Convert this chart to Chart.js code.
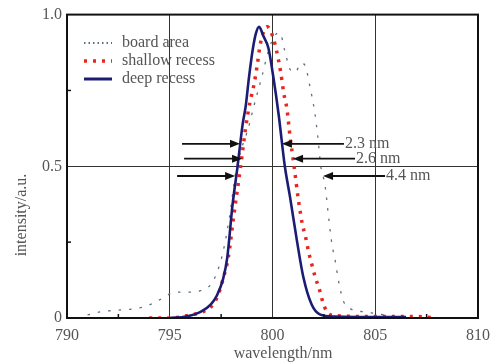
<!DOCTYPE html>
<html>
<head>
<meta charset="utf-8">
<script src="https://cdn.jsdelivr.net/npm/chart.js@4.4.0/dist/chart.umd.min.js"></script>
<style>
  html, body { margin: 0; padding: 0; background: #fff; }
  #wrap { width: 500px; height: 364px; }
</style>
</head>
<body>
<div id="wrap"><canvas id="chart" width="500" height="364"></canvas></div>
<script>
// axis ticks
const xTicks = [790, 795, 800, 805, 810];
const yTicks = [0, 0.5, 1.0];

// board area (thin dotted)
const boardX = [791.0, 791.6, 792.3, 793.2, 793.9, 794.5, 795.3, 796.1, 796.5, 797.0, 797.3, 797.6, 797.9, 798.2, 798.5, 798.8, 799.1, 799.5, 799.8, 800.1, 800.36, 800.6, 800.85, 801.1, 801.4, 801.6, 801.8, 802.05, 802.2, 802.35, 802.55, 802.75, 802.9, 803.05, 803.2, 803.45, 803.8, 804.5, 805.5];
const boardY = [0.01, 0.02, 0.025, 0.03, 0.04, 0.06, 0.085, 0.085, 0.09, 0.11, 0.15, 0.22, 0.33, 0.475, 0.56, 0.62, 0.7, 0.8, 0.88, 0.93, 0.94, 0.88, 0.82, 0.81, 0.84, 0.83, 0.77, 0.68, 0.6, 0.5, 0.44, 0.32, 0.24, 0.19, 0.127, 0.056, 0.03, 0.02, 0.01];

// shallow recess (red dots)
const shallowX = [794.0, 795.0, 796.0, 796.6, 797.05, 797.35, 797.6, 797.85, 798.1, 798.45, 798.7, 798.9, 799.1, 799.25, 799.4, 799.6, 799.75, 800.05, 800.2, 800.4, 800.55, 800.7, 800.85, 801.05, 801.26, 801.45, 801.6, 801.75, 801.9, 802.07, 802.3, 802.46, 802.65, 803.0, 805.0, 807.0, 808.0];
const shallowY = [0, 0, 0.01, 0.02, 0.04, 0.075, 0.13, 0.2, 0.33, 0.5, 0.63, 0.71, 0.77, 0.83, 0.9, 0.95, 0.96, 0.92, 0.88, 0.81, 0.74, 0.69, 0.6, 0.5, 0.39, 0.31, 0.27, 0.22, 0.18, 0.137, 0.09, 0.05, 0.02, 0.008, 0.005, 0.005, 0];

// deep recess (solid navy)
const deepX = [795.0, 795.8, 796.5, 797.0, 797.3, 797.6, 797.8, 798.05, 798.3, 798.55, 798.7, 798.85, 799.05, 799.2, 799.35, 799.55, 799.8, 800.05, 800.3, 800.6, 800.85, 801.2, 801.5, 801.9, 802.3, 803.0, 806.5];
const deepY = [0, 0.005, 0.02, 0.045, 0.075, 0.13, 0.2, 0.37, 0.5, 0.64, 0.7, 0.79, 0.89, 0.94, 0.96, 0.93, 0.89, 0.79, 0.67, 0.5, 0.4, 0.25, 0.135, 0.045, 0.012, 0.005, 0.003];

// FWHM arrows
const fwhmLabels = ['2.3 nm', '2.6 nm', '4.4 nm'];
const fwhmLevel = [0.574, 0.525, 0.468];
const fwhmLeft = [798.42, 798.52, 798.18];
const fwhmRight = [800.46, 801.0, 802.46];

const legendLabels = ['board area', 'shallow recess', 'deep recess'];

const toPts = (xs, ys) => xs.map((x, i) => ({x: x, y: ys[i]}));

const serif = '"Liberation Serif", "DejaVu Serif", serif';
const textGrey = '#555';

function arrow(ctx, x0, y, x1) {
  const dir = x1 > x0 ? 1 : -1;
  ctx.beginPath();
  ctx.moveTo(x0, y);
  ctx.lineTo(x1 - dir * 8, y);
  ctx.stroke();
  ctx.beginPath();
  ctx.moveTo(x1, y);
  ctx.lineTo(x1 - dir * 10, y - 4);
  ctx.lineTo(x1 - dir * 10, y + 4);
  ctx.closePath();
  ctx.fill();
}

const extras = {
  id: 'extras',
  afterDatasetsDraw(chart) {
    const {ctx, chartArea: a, scales} = chart;
    const xs = scales.x, ys = scales.y;
    ctx.save();
    // frame
    ctx.strokeStyle = '#111';
    ctx.lineWidth = 2;
    ctx.strokeRect(a.left, a.top, a.right - a.left, a.bottom - a.top);
    // minor ticks
    ctx.lineWidth = 1.5;
    [0.25, 0.75].forEach(v => {
      const y = ys.getPixelForValue(v);
      ctx.beginPath(); ctx.moveTo(a.left, y); ctx.lineTo(a.left + 4, y); ctx.stroke();
    });
    [792.5, 797.5, 802.5, 807.5].forEach(v => {
      const x = xs.getPixelForValue(v);
      ctx.beginPath(); ctx.moveTo(x, a.bottom); ctx.lineTo(x, a.bottom - 4); ctx.stroke();
    });

    // FWHM arrows
    ctx.strokeStyle = '#111';
    ctx.fillStyle = '#111';
    ctx.lineWidth = 1.8;
    ctx.font = '16px ' + serif;
    ctx.textBaseline = 'middle';
    fwhmLabels.forEach((lab, i) => {
      const y = ys.getPixelForValue(fwhmLevel[i]);
      const xl = xs.getPixelForValue(fwhmLeft[i]);
      const xr = xs.getPixelForValue(fwhmRight[i]);
      arrow(ctx, xl - 58, y, xl);
      const tail = xr + 62;
      arrow(ctx, tail, y, xr);
      ctx.fillStyle = textGrey;
      ctx.textAlign = 'left';
      ctx.fillText(lab, tail + 1, y);
      ctx.fillStyle = '#111';
    });

    // legend
    const lx0 = 84, lx1 = 112, ly = [43, 61, 79];
    ctx.lineCap = 'butt';
    ctx.strokeStyle = '#5f6f82'; ctx.lineWidth = 2; ctx.setLineDash([1.5, 3]);
    ctx.beginPath(); ctx.moveTo(lx0, ly[0]); ctx.lineTo(lx1, ly[0]); ctx.stroke();
    ctx.strokeStyle = '#e8261e'; ctx.lineWidth = 3.5; ctx.setLineDash([3, 6]);
    ctx.beginPath(); ctx.moveTo(lx0, ly[1]); ctx.lineTo(lx1, ly[1]); ctx.stroke();
    ctx.strokeStyle = '#1c1c74'; ctx.lineWidth = 3; ctx.setLineDash([]);
    ctx.beginPath(); ctx.moveTo(lx0, ly[2]); ctx.lineTo(lx1, ly[2]); ctx.stroke();
    ctx.fillStyle = textGrey;
    ctx.textAlign = 'left';
    legendLabels.forEach((t, i) => ctx.fillText(t, 122, ly[i]));

    // axis titles
    ctx.textAlign = 'center';
    ctx.fillText('wavelength/nm', 283, 354);
    ctx.translate(22, 215);
    ctx.rotate(-Math.PI / 2);
    ctx.fillText('intensity/a.u.', 0, 0);
    ctx.restore();
  }
};

new Chart(document.getElementById('chart'), {
  type: 'line',
  data: {
    datasets: [
      {
        label: legendLabels[2],
        data: toPts(deepX, deepY),
        borderColor: '#1c1c74',
        borderWidth: 2.6,
        pointRadius: 0,
        cubicInterpolationMode: 'monotone',
        order: 0,
      },
      {
        label: legendLabels[1],
        data: toPts(shallowX, shallowY),
        borderColor: '#e8261e',
        borderWidth: 3.5,
        borderDash: [3, 6],
        pointRadius: 0,
        cubicInterpolationMode: 'monotone',
        order: 1,
      },
      {
        label: legendLabels[0],
        data: toPts(boardX, boardY),
        borderColor: '#5f6f82',
        borderWidth: 1.3,
        borderDash: [2.5, 8],
        pointRadius: 0,
        cubicInterpolationMode: 'monotone',
        order: 2,
      },
    ],
  },
  options: {
    responsive: false,
    animation: false,
    layout: {padding: {left: 0, right: 22, top: 14, bottom: 0}},
    plugins: {
      legend: {display: false},
      tooltip: {enabled: false},
    },
    scales: {
      x: {
        type: 'linear',
        min: 790,
        max: 810,
        afterBuildTicks: s => { s.ticks = xTicks.map(v => ({value: v})); },
        afterFit: s => { s.height = 46; },
        ticks: {
          font: {family: serif, size: 16},
          color: textGrey,
          padding: 8,
          maxRotation: 0,
        },
        grid: {color: '#333', lineWidth: 1, drawTicks: false},
        border: {color: '#111', width: 2},
      },
      y: {
        min: 0,
        max: 1,
        afterBuildTicks: s => { s.ticks = yTicks.map(v => ({value: v})); },
        afterFit: s => { s.width = 67; },
        ticks: {
          font: {family: serif, size: 16},
          color: textGrey,
          padding: 5,
          callback: v => (v === 1 ? '1.0' : String(v)),
        },
        grid: {color: '#333', lineWidth: 1, drawTicks: false},
        border: {color: '#111', width: 2},
      },
    },
  },
  plugins: [extras],
});
</script>
</body>
</html>
